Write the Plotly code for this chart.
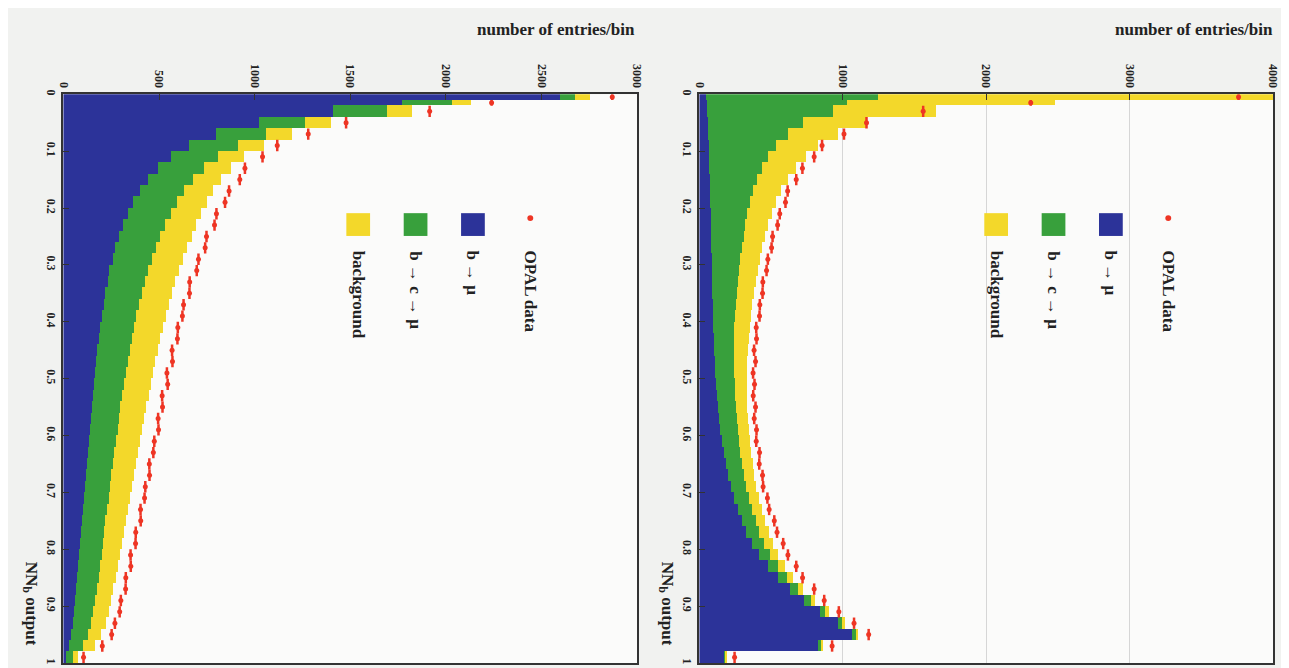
import plotly.graph_objects as go

# ---------------- data ----------------
# bin edges of the NN output axis (first bin split into two narrow bins)
bin_edges = [0.0, 0.01] + [round(0.02 * k, 2) for k in range(1, 51)]

# left panel (entries/bin)
L_bmu = [2601, 1774, 1412, 1024, 802, 657, 564, 497, 445, 403, 367,
         341, 315, 295, 274, 259, 243, 233, 222, 212, 202,
         191, 186, 176, 171, 166, 160, 155, 150, 145, 140,
         134, 129, 124, 119, 114, 109, 103, 98, 93, 88,
         83, 78, 72, 67, 62, 57, 52, 41, 31, 16]
L_bcmu = [78, 259, 284, 243, 259, 259, 248, 238, 233, 228, 228,
          222, 217, 212, 212, 207, 202, 197, 191, 186, 181,
          181, 176, 176, 171, 166, 160, 155, 150, 150, 145,
          145, 140, 140, 134, 134, 129, 129, 124, 124, 119,
          119, 114, 114, 109, 103, 98, 93, 88, 72, 36]
L_bkg = [78, 103, 129, 134, 134, 134, 134, 145, 150, 155, 160,
         160, 166, 166, 160, 160, 160, 155, 155, 155, 155,
         150, 145, 145, 140, 140, 140, 140, 134, 129, 129,
         124, 124, 119, 119, 114, 114, 109, 109, 103, 103,
         98, 98, 93, 88, 88, 83, 78, 72, 62, 26]
L_data = [2870, 2239, 1915, 1478, 1280, 1118, 1041, 949, 922, 866, 845,
          800, 790, 748, 741, 706, 697, 660, 659, 628, 622,
          598, 596, 568, 570, 541, 545, 516, 518, 495, 497,
          475, 470, 449, 450, 428, 424, 403, 404, 378, 377,
          351, 352, 326, 325, 300, 294, 269, 252, 203, 105]

# right panel (entries/bin)
R_bmu = [48, 55, 55, 62, 62, 69, 69, 69, 76, 76, 76,
         83, 83, 83, 83, 90, 90, 90, 90, 97, 97,
         97, 103, 103, 110, 110, 117, 124, 131, 138, 145,
         159, 172, 186, 200, 221, 241, 269, 297, 331, 372,
         421, 483, 552, 635, 731, 841, 966, 1069, 828, 172]
R_bcmu = [1200, 979, 876, 662, 559, 469, 414, 372, 331, 303, 283,
          255, 241, 228, 214, 193, 186, 179, 172, 159, 152,
          145, 138, 138, 131, 131, 131, 124, 124, 124, 124,
          117, 117, 117, 117, 110, 110, 103, 97, 90, 83,
          76, 69, 62, 55, 48, 41, 34, 28, 21, 14]
R_bkg = [2773, 1448, 724, 448, 345, 290, 262, 234, 214, 193, 179,
         172, 159, 152, 145, 145, 138, 131, 124, 117, 117,
         117, 110, 103, 97, 97, 90, 90, 83, 83, 83,
         83, 76, 76, 69, 69, 69, 69, 69, 69, 62,
         55, 48, 41, 34, 28, 21, 21, 14, 14, 7]
R_data = [3759, 2310, 1560, 1165, 1008, 855, 800, 718, 675, 615, 600,
          560, 545, 510, 503, 477, 468, 442, 440, 421, 419,
          396, 398, 381, 391, 374, 384, 375, 391, 382, 398,
          396, 419, 417, 440, 444, 474, 486, 522, 541, 584,
          617, 675, 719, 800, 870, 972, 1078, 1180, 925, 245]

L_ticks = [0, 500, 1000, 1500, 2000, 2500, 3000]
R_ticks = [0, 1000, 2000, 3000, 4000]
nn_ticks = [0, 0.1, 0.2, 0.3, 0.4, 0.5, 0.6, 0.7, 0.8, 0.9, 1]

legend_labels = ["background", "b \u2192 c \u2192 \u03bc", "b \u2192 \u03bc", "OPAL data"]

nn_centers = [(a + b) / 2 for a, b in zip(bin_edges[:-1], bin_edges[1:])]
nn_widths = [b - a for a, b in zip(bin_edges[:-1], bin_edges[1:])]
nn_half = [w / 2 for w in nn_widths]

# ---------------- style ----------------
OFF = 8                      # default page margin around the plot div
W, H = 1289 - OFF, 668 - OFF
C_BLUE = "#2c3399"
C_GREEN = "#38a03c"
C_YEL = "#f3d82a"
C_RED = "#ee3524"
FONT = "Liberation Serif"

def px(x):
    return (x - OFF) / W

def py(y):
    return 1 - (y - OFF) / H

fig = go.Figure()

panels = [
    dict(xa="x", ya="y", b=L_bmu, g=L_bcmu, k=L_bkg, d=L_data),
    dict(xa="x2", ya="y2", b=R_bmu, g=R_bcmu, k=R_bkg, d=R_data),
]
for p in panels:
    for vals, col in [(p["b"], C_BLUE), (p["g"], C_GREEN), (p["k"], C_YEL)]:
        fig.add_trace(go.Bar(x=vals, y=nn_centers, orientation="h", width=nn_widths,
                             marker=dict(color=col, line=dict(width=0)),
                             xaxis=p["xa"], yaxis=p["ya"], showlegend=False))
    fig.add_trace(go.Scatter(x=p["d"], y=nn_centers, mode="markers",
                             marker=dict(color=C_RED, size=5),
                             error_y=dict(type="data", array=nn_half, width=0,
                                          color=C_RED, thickness=2.5),
                             xaxis=p["xa"], yaxis=p["ya"], showlegend=False))

tickfont = dict(family=FONT, size=12, color="#222", weight="bold")
common_x = dict(side="top", tickangle=90, tickfont=tickfont, showline=True, mirror=True,
                linecolor="#333", linewidth=2, ticks="inside", ticklen=6, tickcolor="#333",
                zeroline=False)
common_y = dict(autorange=False, range=[1, 0], tickvals=nn_ticks, tickangle=90,
                tickfont=tickfont, showline=True, mirror=True, linecolor="#333",
                linewidth=2, ticks="inside", ticklen=6, tickcolor="#333", showgrid=False,
                zeroline=False)

fig.update_layout(
    width=W, height=H,
    margin=dict(l=0, r=0, t=0, b=0),
    paper_bgcolor="#f1f2f0",
    plot_bgcolor="#fbfbfa",
    barmode="stack", bargap=0,
    xaxis=dict(domain=[px(57), px(637)], range=[0, 3000], tickvals=L_ticks,
               showgrid=False, anchor="y", **common_x),
    yaxis=dict(domain=[py(664), py(90)], anchor="x", **common_y),
    xaxis2=dict(domain=[px(700), px(1280)], range=[0, 4000], tickvals=R_ticks,
                showgrid=True, gridcolor="#d6d6d6", gridwidth=1, anchor="y2", **common_x),
    yaxis2=dict(domain=[py(664), py(90)], anchor="x2", **common_y),
)

title_font = dict(family=FONT, size=17, color="#222", weight="bold")
annotations = []
shapes = []
for x_end, x_lab in [(637, 24), (1282, 667)]:
    annotations.append(dict(x=px(x_end), y=py(25), xref="paper", yref="paper",
                            text="number of entries/bin", showarrow=False,
                            xanchor="right", yanchor="middle", font=title_font))
    annotations.append(dict(x=px(x_lab), y=py(604), xref="paper", yref="paper",
                            text="NN<sub>b</sub> output", showarrow=False, textangle=90,
                            xanchor="center", yanchor="middle", font=title_font))

legend_font = dict(family=FONT, size=17, color="#222", weight="bold")
for x0 in [355, 1000]:
    cols = [C_YEL, C_GREEN, C_BLUE, None]
    for i, (lab, col) in enumerate(zip(legend_labels, cols)):
        cx = x0 + 58 * i
        if col is not None:
            shapes.append(dict(type="rect", xref="paper", yref="paper",
                               x0=px(cx - 12), x1=px(cx + 12), y0=py(233), y1=py(210),
                               fillcolor=col, line=dict(width=0)))
        else:
            shapes.append(dict(type="circle", xref="paper", yref="paper",
                               x0=px(cx - 3), x1=px(cx + 3), y0=py(218), y1=py(212),
                               fillcolor=C_RED, line=dict(width=0)))
        annotations.append(dict(x=px(cx), y=py(246), xref="paper", yref="paper",
                                text=lab, showarrow=False, textangle=90,
                                xanchor="center", yanchor="top", font=legend_font))

fig.update_layout(annotations=annotations, shapes=shapes)
fig.write_html("out.html")
